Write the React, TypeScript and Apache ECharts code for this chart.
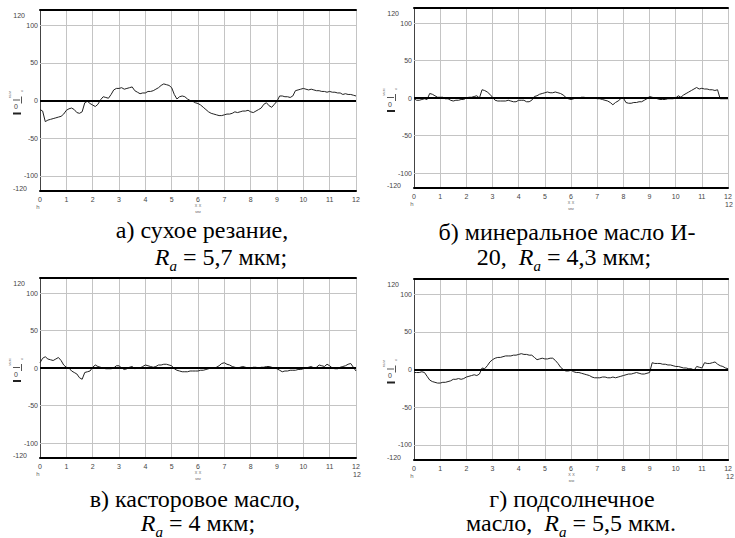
import React, { useEffect, useRef } from 'react';
import * as echarts from 'echarts';

// Horizontal step of the profile samples (mm)
const xStep = 0.1;

// а) сухое резание
const profileA = [
  -12, -14, -28, -26, -25, -24, -23, -22, -21, -18,
  -13, -11, -10, -12, -16, -17, -15, -3, -1, -4,
  -6, -8, -5, 1, 5, 4, 3, 8, 14, 16,
  16, 17, 15, 16, 17, 18, 13, 11, 9, 10,
  10, 12, 12, 13, 15, 17, 20, 22, 21, 20,
  17, 8, 2, 5, 6, 5, 2, 0, -1, -3,
  -4, -6, -9, -12, -15, -17, -18, -19, -20, -20,
  -19, -18, -18, -17, -15, -16, -15, -14, -14, -13,
  -15, -16, -14, -12, -10, -5, -3, -7, -9, -5,
  -1, 6, 6, 5, 5, 4, 6, 13, 14, 15,
  16, 15, 14, 15, 14, 13, 13, 12, 12, 11,
  12, 11, 11, 10, 10, 8, 9, 8, 8, 7,
  6,
];

// б) минеральное масло И-20
const profileB = [
  -1, -3, -3, -2, -1, -2, 6, 5, 3, 1,
  1, 1, -1, -1, -3, -4, -3, -3, -2, -2,
  0, 1, 1, 2, 3, 0, 11, 10, 8, 5,
  1, -3, -4, -4, -4, -4, -3, -4, -5, -5,
  -3, -3, -3, -5, -5, -3, 2, 3, 5, 6,
  7, 8, 7, 7, 8, 7, 6, 4, 1, -1,
  -2, -1, 0, 0, 1, 1, 0, 0, 0, 0,
  -1, -1, -2, -3, -4, -6, -9, -6, -4, -1,
  0, -6, -7, -7, -6, -6, -5, -5, -3, -1,
  2, 1, 0, -1, -2, -2, -2, -1, -1, -1,
  0, 3, 1, 4, 6, 8, 10, 12, 14, 12,
  13, 12, 12, 11, 11, 10, 11, -1, -1, -1,
  -1,
];

// в) касторовое масло
const profileC = [
  7, 13, 15, 12, 11, 10, 12, 14, 10, 4,
  1, 0, -4, -6, -8, -13, -15, -6, -5, -4,
  1, 4, 2, 1, 0, -1, -1, -1, 0, 3,
  3, 0, -2, -1, 1, 2, -1, 0, 0, 2,
  4, 3, 2, 1, 2, 4, 4, 5, 5, 4,
  3, -1, -3, -4, -5, -5, -5, -4, -4, -4,
  -4, -3, -3, -2, -1, 0, 0, 1, 3, 6,
  7, 5, 4, 2, 1, 0, 1, 2, 1, 0,
  0, 1, 1, 0, 1, 1, 2, 2, 1, 0,
  -1, -3, -5, -4, -4, -3, -3, -3, -2, -2,
  -1, 0, 1, 2, 0, 1, 4, 3, 2, 5,
  3, 0, -1, -1, 1, 2, 3, 5, 6, 1,
  -4,
];

// г) подсолнечное масло
const profileD = [
  -4, -4, -4, -3, -4, -9, -14, -16, -17, -18,
  -18, -17, -17, -16, -15, -13, -13, -12, -13, -12,
  -10, -9, -8, -7, -8, -6, 2, 1, 5, 10,
  13, 15, 16, 16, 17, 18, 18, 18, 19, 19,
  20, 21, 20, 20, 19, 19, 16, 13, 14, 15,
  14, 14, 15, 15, 12, 8, 3, 0, -2, -2,
  -1, -3, -4, -4, -5, -6, -7, -8, -10, -11,
  -11, -11, -10, -10, -11, -11, -10, -11, -10, -9,
  -8, -7, -6, -6, -5, -4, -5, -6, -6, -5,
  -4, 9, 8, 8, 8, 7, 7, 6, 6, 5,
  4, 4, 3, 2, 2, 1, 1, -1, 4, 3,
  2, 9, 8, 8, 9, 10, 7, 5, 4, 2,
  1,
];

const profiles = [profileA, profileB, profileC, profileD];

const xMin = 0;
const xMax = 12;
const yMin = -120;
const yMax = 120;
const yLabelValues = [-120, -100, -50, 0, 50, 100, 120];
const yGridValues = [-100, -50, 50, 100];

const captionLine1 = [
  'а) сухое резание,',
  'б) минеральное масло И-',
  'в) касторовое масло,',
  'г) подсолнечное',
];
const captionPrefix2 = ['', '20,  ', '', 'масло,  '];
const captionValue2 = ['5,7 мкм;', '4,3 мкм;', '4 мкм;', '5,5 мкм.'];
const showRight12 = [false, true, true, true];

// layout of the four panels (pixels)
const panels = [
  { l: 40, t: 10, w: 316, h: 181, c1x: 202, c1y: 230, c2x: 221, c2y: 256 },
  { l: 414, t: 8, w: 314, h: 180, c1x: 567, c1y: 232, c2x: 564, c2y: 256 },
  { l: 40, t: 278, w: 316, h: 180, c1x: 195, c1y: 499, c2x: 198, c2y: 522 },
  { l: 414, t: 279, w: 315, h: 181, c1x: 572, c1y: 499, c2x: 571, c2y: 522 },
];

const serif = 'Liberation Serif';
const sans = 'Liberation Sans, Arial, sans-serif';

export default function App() {
  const ref = useRef<HTMLDivElement>(null);

  useEffect(() => {
    if (!ref.current) return;
    const chart = echarts.init(ref.current, undefined, { renderer: 'svg' });

    const grid: any[] = [];
    const xAxis: any[] = [];
    const yAxis: any[] = [];
    const series: any[] = [];
    const graphic: any[] = [];

    panels.forEach((p, i) => {
      grid.push({ left: p.l, top: p.t, width: p.w, height: p.h, containLabel: false });
      xAxis.push({
        type: 'value',
        gridIndex: i,
        min: xMin,
        max: xMax,
        interval: 1,
        position: 'bottom',
        axisLine: { show: true, onZero: false, lineStyle: { color: '#000', width: 2 } },
        axisTick: { show: false },
        axisLabel: { fontSize: 7, color: '#444', margin: 5, fontFamily: sans },
        splitLine: { show: true, lineStyle: { color: '#c4c4c4', width: 1 } },
      });
      xAxis.push({
        type: 'value',
        gridIndex: i,
        min: xMin,
        max: xMax,
        interval: 1,
        position: 'top',
        axisLine: { show: true, onZero: false, lineStyle: { color: '#000', width: 2 } },
        axisTick: { show: false },
        axisLabel: { show: false },
        splitLine: { show: false },
      });
      yAxis.push({
        type: 'value',
        gridIndex: i,
        min: yMin,
        max: yMax,
        interval: 10,
        axisLine: { show: true, onZero: false, lineStyle: { color: '#444', width: 1 } },
        axisTick: { show: false },
        splitLine: { show: false },
        axisLabel: {
          customValues: yLabelValues,
          fontSize: 7,
          color: '#444',
          margin: 2,
          fontFamily: sans,
          formatter: (v: number) =>
            v === yMax ? '{t|' + v + '}' : v === yMin ? '{b|' + v + '}' : String(v),
          rich: {
            t: { fontSize: 7, color: '#444', fontFamily: sans, padding: [10, 13, 0, 0] },
            b: { fontSize: 7, color: '#444', fontFamily: sans, padding: [0, 11, 6, 0] },
          },
        },
      });

      series.push({
        type: 'line',
        xAxisIndex: 2 * i,
        yAxisIndex: i,
        data: [],
        z: 1,
        silent: true,
        markLine: {
          silent: true,
          symbol: ['none', 'none'],
          label: { show: false },
          lineStyle: { color: '#c4c4c4', width: 1, type: 'solid' },
          data: yGridValues.map((v) => ({ yAxis: v })),
        },
      });
      series.push({
        type: 'line',
        xAxisIndex: 2 * i,
        yAxisIndex: i,
        data: [],
        z: 2,
        silent: true,
        markLine: {
          silent: true,
          symbol: ['none', 'none'],
          label: { show: false },
          lineStyle: { color: '#000', width: 2, type: 'solid' },
          data: [{ yAxis: 0 }],
        },
      });
      series.push({
        type: 'line',
        xAxisIndex: 2 * i,
        yAxisIndex: i,
        z: 3,
        showSymbol: false,
        symbol: 'none',
        lineStyle: { color: '#222', width: 1 },
        data: profiles[i].map((y, k) => [+(k * xStep).toFixed(1), y]),
      });

      const y0 = p.t + p.h / 2;
      const bottom = p.t + p.h;
      graphic.push(
        { type: 'text', x: p.l - 31, y: y0 - 6, rotation: Math.PI / 2, style: { text: 'мкм', fontSize: 4, fill: '#777', fontFamily: sans, align: 'center', verticalAlign: 'middle' } },
        { type: 'text', x: p.l - 18, y: y0 - 10, style: { text: 'ч', fontSize: 4, fill: '#777', fontFamily: sans, align: 'center', verticalAlign: 'middle' } },
        { type: 'rect', shape: { x: p.l - 27, y: y0 - 1, width: 7, height: 1 }, style: { fill: '#555' } },
        { type: 'rect', shape: { x: p.l - 19, y: y0 - 4, width: 1, height: 7 }, style: { fill: '#555' } },
        { type: 'text', x: p.l - 24, y: y0 + 6, style: { text: '0', fontSize: 7, fill: '#444', fontFamily: sans, align: 'center', verticalAlign: 'middle' } },
        { type: 'rect', shape: { x: p.l - 27, y: y0 + 12, width: 8, height: 2 }, style: { fill: '#222' } },
      );
      graphic.push(
        { type: 'text', x: p.l - 2, y: bottom + 16, style: { text: 'h', fontSize: 6, fill: '#666', fontFamily: sans, align: 'center', verticalAlign: 'middle' } },
        { type: 'text', x: p.l + p.w / 2, y: bottom + 14, style: { text: 'x x', fontSize: 5, fill: '#777', fontFamily: sans, align: 'center', verticalAlign: 'middle' } },
        { type: 'text', x: p.l + p.w / 2, y: bottom + 20, style: { text: 'мм', fontSize: 4, fill: '#777', fontFamily: sans, align: 'center', verticalAlign: 'middle' } },
      );
      if (showRight12[i]) {
        graphic.push({ type: 'text', x: p.l + p.w + 1, y: bottom + 16, style: { text: String(xMax), fontSize: 7, fill: '#444', fontFamily: sans, align: 'center', verticalAlign: 'middle' } });
      }
      graphic.push({
        type: 'text',
        x: p.c1x,
        y: p.c1y,
        style: { text: captionLine1[i], font: '24px ' + serif, lineHeight: 19, fill: '#000', align: 'center', verticalAlign: 'middle' },
      });
      graphic.push({
        type: 'text',
        x: p.c2x,
        y: p.c2y + 1,
        style: {
          text: captionPrefix2[i] + '{i|R}{s|a}{n| = ' + captionValue2[i] + '}',
          fontSize: 24,
          fill: '#000',
          fontFamily: serif,
          align: 'center',
          verticalAlign: 'middle',
          lineHeight: 20,
          rich: {
            i: { fontSize: 24, fontStyle: 'italic', fontFamily: serif, fill: '#000', lineHeight: 20 },
            s: { fontSize: 15, fontStyle: 'italic', fontFamily: serif, fill: '#000', lineHeight: 6, verticalAlign: 'top', padding: [11, 0, 0, 0] },
            n: { fontSize: 24, fontFamily: serif, fill: '#000', lineHeight: 20 },
          },
        },
      });
    });

    chart.setOption({
      animation: false,
      backgroundColor: '#fff',
      grid,
      xAxis,
      yAxis,
      series,
      graphic,
    });

    return () => chart.dispose();
  }, []);

  return (
    <div
      ref={ref}
      style={{ position: 'absolute', left: 0, top: 0, width: 735, height: 538 }}
    />
  );
}
